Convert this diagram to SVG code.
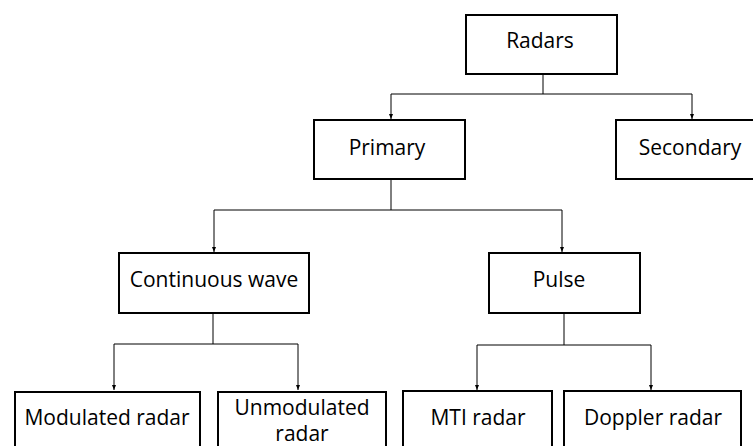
<svg xmlns="http://www.w3.org/2000/svg" width="753" height="446" viewBox="0 0 753 446">
<style>
.box{fill:#fff;stroke:#000;stroke-width:2}
.lbl{font-family:"Open Sans","Liberation Sans",sans-serif;font-size:21px;fill:#000;text-anchor:middle}
.conn{fill:none;stroke:#000;stroke-width:1}
</style>
<defs>
<marker id="arr" viewBox="0 0 10 10" refX="10" refY="5" markerWidth="5" markerHeight="5" orient="auto" markerUnits="userSpaceOnUse">
<path d="M0,1 L10,5 L0,9 Z" fill="#000"/>
</marker>
</defs>
<rect width="753" height="446" fill="#fff"/>
<g id="connectors">
<path class="conn" d="M543,74 V94 H391 V119" marker-end="url(#arr)"/>
<path class="conn" d="M543,94 H692 V119" marker-end="url(#arr)"/>
<path class="conn" d="M391,179 V210 H214 V252" marker-end="url(#arr)"/>
<path class="conn" d="M391,210 H562 V252" marker-end="url(#arr)"/>
<path class="conn" d="M213,313 V344 H114 V390" marker-end="url(#arr)"/>
<path class="conn" d="M213,344 H298 V390" marker-end="url(#arr)"/>
<path class="conn" d="M564,313 V345 H477 V390" marker-end="url(#arr)"/>
<path class="conn" d="M564,345 H651 V390" marker-end="url(#arr)"/>
</g>
<g id="radars"><rect class="box" x="466" y="15" width="151" height="59"/><text class="lbl" x="540" y="48">Radars</text></g>
<g id="primary"><rect class="box" x="314" y="120" width="151" height="59"/><text class="lbl" x="387" y="155">Primary</text></g>
<g id="secondary"><rect class="box" x="616" y="120" width="150" height="59"/><text class="lbl" x="690" y="155">Secondary</text></g>
<g id="continuous"><rect class="box" x="119" y="253" width="190" height="60"/><text class="lbl" x="214" y="287">Continuous wave</text></g>
<g id="pulse"><rect class="box" x="489" y="253" width="151" height="60"/><text class="lbl" x="559" y="287">Pulse</text></g>
<g id="modulated"><rect class="box" x="15" y="392" width="185" height="70"/><text class="lbl" x="107" y="425">Modulated radar</text></g>
<g id="unmodulated"><rect class="box" x="218" y="392" width="168" height="70"/><text class="lbl" x="302" y="415">Unmodulated</text><text class="lbl" x="302" y="441">radar</text></g>
<g id="mti"><rect class="box" x="403" y="391" width="149" height="70"/><text class="lbl" x="478" y="425">MTI radar</text></g>
<g id="doppler"><rect class="box" x="564" y="391" width="177" height="70"/><text class="lbl" x="653" y="425">Doppler radar</text></g>
</svg>
